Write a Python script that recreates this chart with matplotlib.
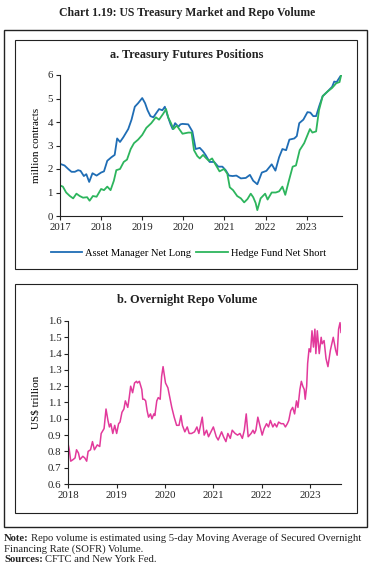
import matplotlib
matplotlib.use("Agg")
import matplotlib.pyplot as plt
from matplotlib.patches import Rectangle
from matplotlib.ticker import FormatStrFormatter

plt.rcParams['font.family'] = ['Liberation Serif', 'DejaVu Serif']

# panel a: Treasury futures positions (million contracts)
am_year = [2017.00, 2017.11, 2017.20, 2017.28, 2017.36, 2017.44, 2017.50, 2017.58, 2017.64, 2017.71,
           2017.79, 2017.89, 2018.00, 2018.07, 2018.15, 2018.25, 2018.33, 2018.39, 2018.46, 2018.54,
           2018.66, 2018.74, 2018.82, 2018.90, 2019.00, 2019.07, 2019.13, 2019.20, 2019.27, 2019.35,
           2019.41, 2019.49, 2019.55, 2019.63, 2019.69, 2019.74, 2019.80, 2019.88, 2019.93, 2019.98,
           2020.12, 2020.22, 2020.30, 2020.40, 2020.48, 2020.54, 2020.64, 2020.75, 2020.85, 2020.95,
           2021.03, 2021.11, 2021.20, 2021.29, 2021.40, 2021.52, 2021.62, 2021.70, 2021.80, 2021.91,
           2022.02, 2022.15, 2022.24, 2022.33, 2022.41, 2022.50, 2022.58, 2022.70, 2022.76, 2022.82,
           2022.92, 2023.02, 2023.09, 2023.16, 2023.23, 2023.31, 2023.39, 2023.51, 2023.62, 2023.67,
           2023.73, 2023.84]
am_long = [2.22, 2.15, 2.00, 1.88, 1.88, 1.95, 1.92, 1.70, 1.78, 1.45,
           1.82, 1.72, 1.85, 1.90, 2.35, 2.50, 2.60, 3.30, 3.15, 3.35,
           3.70, 4.10, 4.65, 4.80, 5.02, 4.80, 4.50, 4.25, 4.20, 4.40,
           4.55, 4.50, 4.65, 4.20, 3.90, 3.70, 3.95, 3.80, 3.90, 3.92,
           3.90, 3.60, 2.85, 2.90, 2.75, 2.60, 2.30, 2.30, 2.10, 2.10,
           1.95, 1.72, 1.70, 1.72, 1.60, 1.62, 1.75, 1.50, 1.35, 1.85,
           1.92, 2.20, 1.93, 2.50, 2.85, 2.80, 3.25, 3.30, 3.40, 3.95,
           4.10, 4.42, 4.40, 4.25, 4.25, 4.70, 5.10, 5.30, 5.50, 5.72,
           5.70, 6.00]

hf_year = [2017.00, 2017.07, 2017.15, 2017.24, 2017.32, 2017.40, 2017.48, 2017.56, 2017.66, 2017.72,
           2017.80, 2017.89, 2018.00, 2018.07, 2018.15, 2018.23, 2018.31, 2018.37, 2018.46, 2018.55,
           2018.63, 2018.72, 2018.80, 2018.90, 2019.00, 2019.10, 2019.22, 2019.33, 2019.41, 2019.51,
           2019.58, 2019.63, 2019.70, 2019.76, 2019.84, 2019.92, 2019.98, 2020.12, 2020.20, 2020.26,
           2020.34, 2020.40, 2020.48, 2020.56, 2020.62, 2020.70, 2020.78, 2020.88, 2020.99, 2021.07,
           2021.13, 2021.21, 2021.31, 2021.40, 2021.48, 2021.56, 2021.64, 2021.70, 2021.76, 2021.80,
           2021.88, 2021.99, 2022.05, 2022.15, 2022.25, 2022.33, 2022.41, 2022.48, 2022.56, 2022.66,
           2022.74, 2022.83, 2022.94, 2023.08, 2023.14, 2023.23, 2023.30, 2023.39, 2023.51, 2023.62,
           2023.72, 2023.80, 2023.84]
hf_short = [1.30, 1.25, 1.00, 0.85, 0.75, 0.95, 0.85, 0.78, 0.80, 0.65,
            0.85, 0.82, 1.15, 1.10, 1.25, 1.10, 1.50, 1.95, 2.00, 2.30,
            2.40, 2.85, 3.10, 3.25, 3.45, 3.75, 3.95, 4.20, 4.10, 4.35,
            4.55, 4.20, 3.95, 3.70, 3.85, 3.65, 3.50, 3.55, 3.55, 2.80,
            2.55, 2.45, 2.60, 2.45, 2.35, 2.45, 2.20, 1.90, 2.00, 1.80,
            1.22, 1.10, 0.85, 0.75, 0.58, 0.72, 0.95, 0.80, 0.55, 0.25,
            0.75, 0.95, 0.70, 1.00, 1.00, 1.05, 1.25, 0.90, 1.45, 2.10,
            2.15, 2.80, 3.10, 3.70, 3.55, 3.60, 4.50, 5.10, 5.30, 5.45,
            5.65, 5.70, 6.00]

# panel b: overnight repo volume (US$ trillion)
repo_year = [2018.00, 2018.02, 2018.05, 2018.10, 2018.14, 2018.17, 2018.21, 2018.24, 2018.30, 2018.34,
             2018.38, 2018.41, 2018.46, 2018.50, 2018.54, 2018.60, 2018.65, 2018.68, 2018.74, 2018.78,
             2018.82, 2018.85, 2018.88, 2018.92, 2018.96, 2019.00, 2019.04, 2019.07, 2019.11, 2019.15,
             2019.18, 2019.23, 2019.26, 2019.29, 2019.33, 2019.37, 2019.41, 2019.43, 2019.47, 2019.52,
             2019.54, 2019.57, 2019.60, 2019.63, 2019.66, 2019.70, 2019.73, 2019.77, 2019.79, 2019.83,
             2019.86, 2019.90, 2019.93, 2019.96, 2019.99, 2020.01, 2020.06, 2020.10, 2020.14, 2020.19,
             2020.24, 2020.29, 2020.33, 2020.36, 2020.41, 2020.46, 2020.50, 2020.55, 2020.61, 2020.66,
             2020.70, 2020.77, 2020.81, 2020.86, 2020.90, 2020.95, 2021.00, 2021.06, 2021.10, 2021.17,
             2021.21, 2021.26, 2021.30, 2021.35, 2021.39, 2021.45, 2021.50, 2021.55, 2021.60, 2021.64,
             2021.68, 2021.72, 2021.78, 2021.82, 2021.85, 2021.88, 2021.92, 2022.01, 2022.05, 2022.10,
             2022.14, 2022.18, 2022.23, 2022.27, 2022.31, 2022.35, 2022.40, 2022.45, 2022.49, 2022.53,
             2022.56, 2022.60, 2022.64, 2022.68, 2022.72, 2022.75, 2022.79, 2022.82, 2022.85, 2022.88,
             2022.90, 2022.93, 2022.95, 2022.98, 2023.01, 2023.04, 2023.07, 2023.10, 2023.12, 2023.15,
             2023.19, 2023.23, 2023.25, 2023.29, 2023.33, 2023.37, 2023.42, 2023.45, 2023.48, 2023.53,
             2023.56, 2023.59, 2023.62, 2023.64]
repo_vol = [0.84, 0.81, 0.74, 0.75, 0.76, 0.81, 0.79, 0.75, 0.77, 0.76,
            0.74, 0.80, 0.81, 0.86, 0.81, 0.84, 0.83, 0.91, 0.94, 1.06,
            0.99, 0.95, 0.97, 0.91, 0.96, 0.91, 0.97, 0.98, 1.04, 1.06,
            1.11, 1.07, 1.13, 1.20, 1.16, 1.22, 1.23, 1.22, 1.23, 1.18,
            1.12, 1.12, 1.11, 1.05, 1.01, 1.03, 1.00, 1.03, 1.02, 1.11,
            1.13, 1.12, 1.26, 1.32, 1.26, 1.22, 1.19, 1.13, 1.07, 1.01,
            0.96, 0.96, 1.02, 0.96, 0.92, 0.95, 0.91, 0.91, 0.92, 0.95,
            0.91, 1.01, 0.90, 0.93, 0.89, 0.92, 0.95, 0.89, 0.87, 0.92,
            0.89, 0.86, 0.91, 0.88, 0.93, 0.91, 0.90, 0.91, 0.88, 0.93,
            1.03, 0.89, 0.91, 0.93, 0.91, 0.93, 1.01, 0.90, 0.94, 0.97,
            0.95, 0.99, 0.95, 0.97, 0.95, 0.98, 0.97, 0.97, 0.95, 0.97,
            0.99, 1.05, 1.07, 1.03, 1.11, 1.07, 1.18, 1.23, 1.20, 1.18,
            1.12, 1.20, 1.34, 1.43, 1.41, 1.54, 1.44, 1.55, 1.40, 1.54,
            1.40, 1.50, 1.46, 1.48, 1.37, 1.32, 1.42, 1.46, 1.50, 1.42,
            1.39, 1.55, 1.59, 1.53]

W, H = 374, 574
fig = plt.figure(figsize=(W / 100, H / 100), dpi=100)

def px_rect(x0, y0, x1, y1, lw):
    # rectangle given in pixel coords from top-left
    fig.patches.append(Rectangle((x0 / W, 1 - y1 / H), (x1 - x0) / W, (y1 - y0) / H,
                                 transform=fig.transFigure, fill=False,
                                 edgecolor='#222222', linewidth=lw))

def px_text(x, y, s, **kw):
    return fig.text(x / W, 1 - y / H, s, **kw)

px_rect(4, 30, 367, 527, 1.0)
px_rect(15, 40, 357, 269, 0.8)
px_rect(15, 284, 357, 513, 0.8)

px_text(187, 13, 'Chart 1.19: US Treasury Market and Repo Volume', ha='center', va='center',
        fontsize=8.5, fontweight='bold', color='#222222')
px_text(187, 55, 'a. Treasury Futures Positions', ha='center', va='center',
        fontsize=8.8, fontweight='bold', color='#222222')
px_text(187, 300, 'b. Overnight Repo Volume', ha='center', va='center',
        fontsize=8.8, fontweight='bold', color='#222222')

tick_fs = 7.8
blue = '#1f6db5'
green = '#2db55d'
pink = '#e2399b'

# panel a
ax1 = fig.add_axes([60 / W, 1 - 216 / H, 282 / W, 141 / H])
ax1.plot(am_year, am_long, color=blue, lw=1.3, label='Asset Manager Net Long')
ax1.plot(hf_year, hf_short, color=green, lw=1.3, label='Hedge Fund Net Short')
ax1.set_xlim(2017, 2023.86)
ax1.set_ylim(0, 6)
ax1.set_xticks(range(2017, 2024))
ax1.set_yticks(range(0, 7))
ax1.set_ylabel('million contracts', fontsize=8, labelpad=5)
ax1.legend(loc='upper center', bbox_to_anchor=(0.455, -0.2), ncol=2, frameon=False,
           fontsize=7.6, handlelength=3.0, columnspacing=0.5, handletextpad=0.25,
           borderaxespad=0)

# panel b
ax2 = fig.add_axes([68.3 / W, 1 - 484 / H, 272.7 / W, 163 / H])
ax2.plot(repo_year, repo_vol, color=pink, lw=1.1)
ax2.set_xlim(2018, 2023.64)
ax2.set_ylim(0.6, 1.6)
ax2.set_xticks(range(2018, 2024))
ax2.set_yticks([0.6 + 0.1 * i for i in range(11)])
ax2.yaxis.set_major_formatter(FormatStrFormatter('%.1f'))
ax2.set_ylabel('US$ trillion', fontsize=8, labelpad=5)

for ax in (ax1, ax2):
    ax.set_facecolor('none')
    ax.spines['top'].set_visible(False)
    ax.spines['right'].set_visible(False)
    ax.spines['left'].set_color('#222222')
    ax.spines['bottom'].set_color('#222222')
    ax.tick_params(labelsize=tick_fs, length=3, width=0.8, colors='#222222', pad=2)

# note lines with bold lead-ins, placed on a shared baseline
fig.canvas.draw()
renderer = fig.canvas.get_renderer()
note_fs = 7.7
def note_line(y, bold, rest):
    t = px_text(4, y, bold, ha='left', va='baseline', fontsize=note_fs, fontweight='bold', color='#222222')
    bb = t.get_window_extent(renderer)
    fig.text(bb.x1 / W + 2 / W, 1 - y / H, rest, ha='left', va='baseline', fontsize=note_fs, color='#222222')

note_line(541, 'Note:', 'Repo volume is estimated using 5-day Moving Average of Secured Overnight')
px_text(4, 551.5, 'Financing Rate (SOFR) Volume.', ha='left', va='baseline', fontsize=note_fs, color='#222222')
note_line(562, 'Sources:', 'CFTC and New York Fed.')

fig.savefig('out.png', dpi=100)
